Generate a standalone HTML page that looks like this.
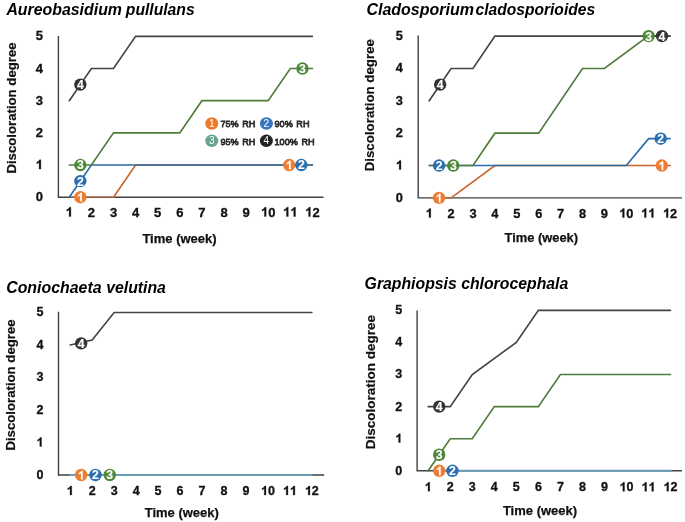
<!DOCTYPE html>
<html><head><meta charset="utf-8"><style>
html,body{margin:0;padding:0;background:#fff;}
svg{display:block;font-family:"Liberation Sans", sans-serif;filter:blur(0.3px);}
</style></head><body>
<svg width="685" height="522" viewBox="0 0 685 522">
<rect width="685" height="522" fill="#fff"/>
<text y="15.0" font-weight="bold" font-style="italic" fill="#000"><tspan x="6.4" font-size="15.88">Aureobasidium</tspan><tspan x="125.8" font-size="15.7">pullulans</tspan></text>
<path d="M58.4 36.0 V197.2 H323.5" fill="none" stroke="#404040" stroke-width="1.4"/>
<text x="35.69" y="201.28" font-size="13" font-weight="bold" fill="#111" stroke="#111" stroke-width="0.3">0</text>
<path transform="translate(35.69 169.11) scale(0.01300 -0.01300)" d="M400 0 H262 V514 C212 468 153 434 84 411 V535 C120 547 160 569 203 602 C246 636 276 674 291 716 H400 Z" fill="#111" stroke="#111" stroke-width="23.1"/>
<text x="35.69" y="136.94" font-size="13" font-weight="bold" fill="#111" stroke="#111" stroke-width="0.3">2</text>
<text x="35.69" y="104.77" font-size="13" font-weight="bold" fill="#111" stroke="#111" stroke-width="0.3">3</text>
<text x="35.69" y="72.60" font-size="13" font-weight="bold" fill="#111" stroke="#111" stroke-width="0.3">4</text>
<text x="35.69" y="40.43" font-size="13" font-weight="bold" fill="#111" stroke="#111" stroke-width="0.3">5</text>
<path transform="translate(65.69 216.50) scale(0.01300 -0.01300)" d="M400 0 H262 V514 C212 468 153 434 84 411 V535 C120 547 160 569 203 602 C246 636 276 674 291 716 H400 Z" fill="#111" stroke="#111" stroke-width="23.1"/>
<text x="87.79" y="216.50" font-size="13" font-weight="bold" fill="#111" stroke="#111" stroke-width="0.3">2</text>
<text x="109.89" y="216.50" font-size="13" font-weight="bold" fill="#111" stroke="#111" stroke-width="0.3">3</text>
<text x="131.99" y="216.50" font-size="13" font-weight="bold" fill="#111" stroke="#111" stroke-width="0.3">4</text>
<text x="154.09" y="216.50" font-size="13" font-weight="bold" fill="#111" stroke="#111" stroke-width="0.3">5</text>
<text x="176.19" y="216.50" font-size="13" font-weight="bold" fill="#111" stroke="#111" stroke-width="0.3">6</text>
<text x="198.29" y="216.50" font-size="13" font-weight="bold" fill="#111" stroke="#111" stroke-width="0.3">7</text>
<text x="220.39" y="216.50" font-size="13" font-weight="bold" fill="#111" stroke="#111" stroke-width="0.3">8</text>
<text x="242.49" y="216.50" font-size="13" font-weight="bold" fill="#111" stroke="#111" stroke-width="0.3">9</text>
<path transform="translate(260.97 216.50) scale(0.01300 -0.01300)" d="M400 0 H262 V514 C212 468 153 434 84 411 V535 C120 547 160 569 203 602 C246 636 276 674 291 716 H400 Z" fill="#111" stroke="#111" stroke-width="23.1"/><text x="268.20" y="216.50" font-size="13" font-weight="bold" fill="#111" stroke="#111" stroke-width="0.3">0</text>
<path transform="translate(283.07 216.50) scale(0.01300 -0.01300)" d="M400 0 H262 V514 C212 468 153 434 84 411 V535 C120 547 160 569 203 602 C246 636 276 674 291 716 H400 Z" fill="#111" stroke="#111" stroke-width="23.1"/><path transform="translate(290.30 216.50) scale(0.01300 -0.01300)" d="M400 0 H262 V514 C212 468 153 434 84 411 V535 C120 547 160 569 203 602 C246 636 276 674 291 716 H400 Z" fill="#111" stroke="#111" stroke-width="23.1"/>
<path transform="translate(305.17 216.50) scale(0.01300 -0.01300)" d="M400 0 H262 V514 C212 468 153 434 84 411 V535 C120 547 160 569 203 602 C246 636 276 674 291 716 H400 Z" fill="#111" stroke="#111" stroke-width="23.1"/><text x="312.40" y="216.50" font-size="13" font-weight="bold" fill="#111" stroke="#111" stroke-width="0.3">2</text>
<text x="179.5" y="243.3" font-size="13" font-weight="bold" text-anchor="middle" fill="#111" stroke="#111" stroke-width="0.25">Time (week)</text>
<text transform="translate(15.5 108) rotate(-90)" font-size="13.2" font-weight="bold" text-anchor="middle" fill="#111" stroke="#111" stroke-width="0.2">Discoloration degree</text>
<path d="M69.30 197.20 L113.50 197.20" fill="none" stroke="#C8652B" stroke-width="1.5" stroke-opacity="0.6" stroke-linejoin="miter" stroke-linecap="round"/>
<path d="M113.50 197.20 L135.60 165.03 L312.40 165.03" fill="none" stroke="#C8652B" stroke-width="1.65" stroke-opacity="1" stroke-linejoin="miter" stroke-linecap="round"/>
<path d="M69.30 197.20 L91.40 165.03 L312.40 165.03" fill="none" stroke="#2A6CA6" stroke-width="1.65" stroke-opacity="1" stroke-linejoin="miter" stroke-linecap="round"/>
<path d="M69.30 165.03 L91.40 165.03 L113.50 132.86 L179.80 132.86 L201.90 100.69 L268.20 100.69 L290.30 68.52 L312.40 68.52" fill="none" stroke="#4E7C3A" stroke-width="1.65" stroke-opacity="1" stroke-linejoin="miter" stroke-linecap="round"/>
<path d="M69.30 100.69 L91.40 68.52 L113.50 68.52 L135.60 36.35 L312.40 36.35" fill="none" stroke="#444444" stroke-width="1.65" stroke-opacity="1" stroke-linejoin="miter" stroke-linecap="round"/>
<circle cx="80.35" cy="197.20" r="6.2" fill="#ED7D31"/>
<path transform="translate(76.96 201.60) scale(0.01220 -0.01220)" d="M400 0 H262 V514 C212 468 153 434 84 411 V535 C120 547 160 569 203 602 C246 636 276 674 291 716 H400 Z" fill="#fff" stroke="#fff" stroke-width="12.3"/>
<circle cx="80.35" cy="181.11" r="6.2" fill="#2A6EB0"/>
<text x="76.96" y="185.51" font-size="12.2" font-weight="bold" fill="#fff" stroke="#fff" stroke-width="0.15">2</text>
<circle cx="80.35" cy="165.03" r="6.2" fill="#4E8737"/>
<text x="76.96" y="169.43" font-size="12.2" font-weight="bold" fill="#fff" stroke="#fff" stroke-width="0.15">3</text>
<circle cx="80.35" cy="84.60" r="6.2" fill="#333333"/>
<text x="76.96" y="89.00" font-size="12.2" font-weight="bold" fill="#fff" stroke="#fff" stroke-width="0.15">4</text>
<circle cx="289.19" cy="165.03" r="6.2" fill="#ED7D31"/>
<path transform="translate(285.80 169.43) scale(0.01220 -0.01220)" d="M400 0 H262 V514 C212 468 153 434 84 411 V535 C120 547 160 569 203 602 C246 636 276 674 291 716 H400 Z" fill="#fff" stroke="#fff" stroke-width="12.3"/>
<circle cx="301.35" cy="165.03" r="6.2" fill="#2A6EB0"/>
<text x="297.96" y="169.43" font-size="12.2" font-weight="bold" fill="#fff" stroke="#fff" stroke-width="0.15">2</text>
<circle cx="302.46" cy="68.52" r="6.2" fill="#4E8737"/>
<text x="299.06" y="72.92" font-size="12.2" font-weight="bold" fill="#fff" stroke="#fff" stroke-width="0.15">3</text>
<text y="15.2" font-weight="bold" font-style="italic" fill="#000"><tspan x="366.4" font-size="16.0">Cladosporium</tspan><tspan x="475.5" font-size="15.6">cladosporioides</tspan></text>
<path d="M418.2 35.5 V197.9 H682" fill="none" stroke="#404040" stroke-width="1.4"/>
<text x="395.84" y="201.91" font-size="12.8" font-weight="bold" fill="#111" stroke="#111" stroke-width="0.3">0</text>
<path transform="translate(395.84 169.55) scale(0.01280 -0.01280)" d="M400 0 H262 V514 C212 468 153 434 84 411 V535 C120 547 160 569 203 602 C246 636 276 674 291 716 H400 Z" fill="#111" stroke="#111" stroke-width="23.4"/>
<text x="395.84" y="137.19" font-size="12.8" font-weight="bold" fill="#111" stroke="#111" stroke-width="0.3">2</text>
<text x="395.84" y="104.83" font-size="12.8" font-weight="bold" fill="#111" stroke="#111" stroke-width="0.3">3</text>
<text x="395.84" y="72.47" font-size="12.8" font-weight="bold" fill="#111" stroke="#111" stroke-width="0.3">4</text>
<text x="395.84" y="40.11" font-size="12.8" font-weight="bold" fill="#111" stroke="#111" stroke-width="0.3">5</text>
<path transform="translate(425.64 217.60) scale(0.01280 -0.01280)" d="M400 0 H262 V514 C212 468 153 434 84 411 V535 C120 547 160 569 203 602 C246 636 276 674 291 716 H400 Z" fill="#111" stroke="#111" stroke-width="23.4"/>
<text x="447.54" y="217.60" font-size="12.8" font-weight="bold" fill="#111" stroke="#111" stroke-width="0.3">2</text>
<text x="469.44" y="217.60" font-size="12.8" font-weight="bold" fill="#111" stroke="#111" stroke-width="0.3">3</text>
<text x="491.34" y="217.60" font-size="12.8" font-weight="bold" fill="#111" stroke="#111" stroke-width="0.3">4</text>
<text x="513.24" y="217.60" font-size="12.8" font-weight="bold" fill="#111" stroke="#111" stroke-width="0.3">5</text>
<text x="535.14" y="217.60" font-size="12.8" font-weight="bold" fill="#111" stroke="#111" stroke-width="0.3">6</text>
<text x="557.04" y="217.60" font-size="12.8" font-weight="bold" fill="#111" stroke="#111" stroke-width="0.3">7</text>
<text x="578.94" y="217.60" font-size="12.8" font-weight="bold" fill="#111" stroke="#111" stroke-width="0.3">8</text>
<text x="600.84" y="217.60" font-size="12.8" font-weight="bold" fill="#111" stroke="#111" stroke-width="0.3">9</text>
<path transform="translate(619.18 217.60) scale(0.01280 -0.01280)" d="M400 0 H262 V514 C212 468 153 434 84 411 V535 C120 547 160 569 203 602 C246 636 276 674 291 716 H400 Z" fill="#111" stroke="#111" stroke-width="23.4"/><text x="626.30" y="217.60" font-size="12.8" font-weight="bold" fill="#111" stroke="#111" stroke-width="0.3">0</text>
<path transform="translate(641.08 217.60) scale(0.01280 -0.01280)" d="M400 0 H262 V514 C212 468 153 434 84 411 V535 C120 547 160 569 203 602 C246 636 276 674 291 716 H400 Z" fill="#111" stroke="#111" stroke-width="23.4"/><path transform="translate(648.20 217.60) scale(0.01280 -0.01280)" d="M400 0 H262 V514 C212 468 153 434 84 411 V535 C120 547 160 569 203 602 C246 636 276 674 291 716 H400 Z" fill="#111" stroke="#111" stroke-width="23.4"/>
<path transform="translate(662.98 217.60) scale(0.01280 -0.01280)" d="M400 0 H262 V514 C212 468 153 434 84 411 V535 C120 547 160 569 203 602 C246 636 276 674 291 716 H400 Z" fill="#111" stroke="#111" stroke-width="23.4"/><text x="670.10" y="217.60" font-size="12.8" font-weight="bold" fill="#111" stroke="#111" stroke-width="0.3">2</text>
<text x="541.3" y="241.9" font-size="12.9" font-weight="bold" text-anchor="middle" fill="#111" stroke="#111" stroke-width="0.25">Time (week)</text>
<text transform="translate(374.3 105.2) rotate(-90)" font-size="13.3" font-weight="bold" text-anchor="middle" fill="#111" stroke="#111" stroke-width="0.2">Discoloration degree</text>
<path d="M429.20 197.90 L451.10 197.90" fill="none" stroke="#C8652B" stroke-width="1.5" stroke-opacity="0.6" stroke-linejoin="miter" stroke-linecap="round"/>
<path d="M451.10 197.90 L494.90 165.54 L670.10 165.54" fill="none" stroke="#C8652B" stroke-width="1.65" stroke-opacity="1" stroke-linejoin="miter" stroke-linecap="round"/>
<path d="M429.20 165.54 L626.30 165.54 L648.64 138.68 L670.10 138.68" fill="none" stroke="#2A6CA6" stroke-width="1.65" stroke-opacity="1" stroke-linejoin="miter" stroke-linecap="round"/>
<path d="M429.20 165.54 L473.00 165.54 L494.90 133.18 L538.70 133.18 L582.50 68.46 L604.40 68.46 L648.20 36.10 L670.10 36.10" fill="none" stroke="#4E7C3A" stroke-width="1.65" stroke-opacity="1" stroke-linejoin="miter" stroke-linecap="round"/>
<path d="M429.20 100.82 L451.10 68.46 L473.00 68.46 L494.90 36.10 L670.10 36.10" fill="none" stroke="#444444" stroke-width="1.65" stroke-opacity="1" stroke-linejoin="miter" stroke-linecap="round"/>
<circle cx="439.06" cy="197.90" r="6.2" fill="#ED7D31"/>
<path transform="translate(435.66 202.30) scale(0.01220 -0.01220)" d="M400 0 H262 V514 C212 468 153 434 84 411 V535 C120 547 160 569 203 602 C246 636 276 674 291 716 H400 Z" fill="#fff" stroke="#fff" stroke-width="12.3"/>
<circle cx="439.06" cy="165.54" r="6.2" fill="#2A6EB0"/>
<text x="435.66" y="169.94" font-size="12.2" font-weight="bold" fill="#fff" stroke="#fff" stroke-width="0.15">2</text>
<circle cx="453.29" cy="165.54" r="6.2" fill="#4E8737"/>
<text x="449.90" y="169.94" font-size="12.2" font-weight="bold" fill="#fff" stroke="#fff" stroke-width="0.15">3</text>
<circle cx="440.15" cy="84.64" r="6.2" fill="#333333"/>
<text x="436.76" y="89.04" font-size="12.2" font-weight="bold" fill="#fff" stroke="#fff" stroke-width="0.15">4</text>
<circle cx="661.78" cy="165.54" r="6.2" fill="#ED7D31"/>
<path transform="translate(658.39 169.94) scale(0.01220 -0.01220)" d="M400 0 H262 V514 C212 468 153 434 84 411 V535 C120 547 160 569 203 602 C246 636 276 674 291 716 H400 Z" fill="#fff" stroke="#fff" stroke-width="12.3"/>
<circle cx="660.68" cy="138.68" r="6.2" fill="#2A6EB0"/>
<text x="657.29" y="143.08" font-size="12.2" font-weight="bold" fill="#fff" stroke="#fff" stroke-width="0.15">2</text>
<circle cx="648.64" cy="36.10" r="6.2" fill="#4E8737"/>
<text x="645.25" y="40.50" font-size="12.2" font-weight="bold" fill="#fff" stroke="#fff" stroke-width="0.15">3</text>
<circle cx="662.00" cy="36.10" r="6.2" fill="#333333"/>
<text x="658.61" y="40.50" font-size="12.2" font-weight="bold" fill="#fff" stroke="#fff" stroke-width="0.15">4</text>
<text y="292.5" font-weight="bold" font-style="italic" fill="#000"><tspan x="6.2" font-size="15.9">Coniochaeta</tspan><tspan x="106.2" font-size="15.8">velutina</tspan></text>
<path d="M58.5 311.7 V475.0 H324.2" fill="none" stroke="#404040" stroke-width="1.4"/>
<text x="36.52" y="478.90" font-size="12.5" font-weight="bold" fill="#111" stroke="#111" stroke-width="0.3">0</text>
<path transform="translate(36.52 446.40) scale(0.01250 -0.01250)" d="M400 0 H262 V514 C212 468 153 434 84 411 V535 C120 547 160 569 203 602 C246 636 276 674 291 716 H400 Z" fill="#111" stroke="#111" stroke-width="24.0"/>
<text x="36.52" y="413.90" font-size="12.5" font-weight="bold" fill="#111" stroke="#111" stroke-width="0.3">2</text>
<text x="36.52" y="381.40" font-size="12.5" font-weight="bold" fill="#111" stroke="#111" stroke-width="0.3">3</text>
<text x="36.52" y="348.90" font-size="12.5" font-weight="bold" fill="#111" stroke="#111" stroke-width="0.3">4</text>
<text x="36.52" y="316.40" font-size="12.5" font-weight="bold" fill="#111" stroke="#111" stroke-width="0.3">5</text>
<path transform="translate(66.73 495.00) scale(0.01250 -0.01250)" d="M400 0 H262 V514 C212 468 153 434 84 411 V535 C120 547 160 569 203 602 C246 636 276 674 291 716 H400 Z" fill="#111" stroke="#111" stroke-width="24.0"/>
<text x="88.70" y="495.00" font-size="12.5" font-weight="bold" fill="#111" stroke="#111" stroke-width="0.3">2</text>
<text x="110.67" y="495.00" font-size="12.5" font-weight="bold" fill="#111" stroke="#111" stroke-width="0.3">3</text>
<text x="132.64" y="495.00" font-size="12.5" font-weight="bold" fill="#111" stroke="#111" stroke-width="0.3">4</text>
<text x="154.60" y="495.00" font-size="12.5" font-weight="bold" fill="#111" stroke="#111" stroke-width="0.3">5</text>
<text x="176.58" y="495.00" font-size="12.5" font-weight="bold" fill="#111" stroke="#111" stroke-width="0.3">6</text>
<text x="198.54" y="495.00" font-size="12.5" font-weight="bold" fill="#111" stroke="#111" stroke-width="0.3">7</text>
<text x="220.52" y="495.00" font-size="12.5" font-weight="bold" fill="#111" stroke="#111" stroke-width="0.3">8</text>
<text x="242.48" y="495.00" font-size="12.5" font-weight="bold" fill="#111" stroke="#111" stroke-width="0.3">9</text>
<path transform="translate(260.98 495.00) scale(0.01250 -0.01250)" d="M400 0 H262 V514 C212 468 153 434 84 411 V535 C120 547 160 569 203 602 C246 636 276 674 291 716 H400 Z" fill="#111" stroke="#111" stroke-width="24.0"/><text x="267.93" y="495.00" font-size="12.5" font-weight="bold" fill="#111" stroke="#111" stroke-width="0.3">0</text>
<path transform="translate(282.95 495.00) scale(0.01250 -0.01250)" d="M400 0 H262 V514 C212 468 153 434 84 411 V535 C120 547 160 569 203 602 C246 636 276 674 291 716 H400 Z" fill="#111" stroke="#111" stroke-width="24.0"/><path transform="translate(289.90 495.00) scale(0.01250 -0.01250)" d="M400 0 H262 V514 C212 468 153 434 84 411 V535 C120 547 160 569 203 602 C246 636 276 674 291 716 H400 Z" fill="#111" stroke="#111" stroke-width="24.0"/>
<path transform="translate(304.92 495.00) scale(0.01250 -0.01250)" d="M400 0 H262 V514 C212 468 153 434 84 411 V535 C120 547 160 569 203 602 C246 636 276 674 291 716 H400 Z" fill="#111" stroke="#111" stroke-width="24.0"/><text x="311.87" y="495.00" font-size="12.5" font-weight="bold" fill="#111" stroke="#111" stroke-width="0.3">2</text>
<text x="181.8" y="516.6" font-size="13" font-weight="bold" text-anchor="middle" fill="#111" stroke="#111" stroke-width="0.25">Time (week)</text>
<text transform="translate(15.0 385) rotate(-90)" font-size="13.2" font-weight="bold" text-anchor="middle" fill="#111" stroke="#111" stroke-width="0.2">Discoloration degree</text>
<path d="M70.20 475.00 L311.87 475.00" fill="none" stroke="#6A9EB2" stroke-width="1.9" stroke-opacity="1" stroke-linejoin="miter" stroke-linecap="round"/>
<path d="M70.20 345.00 L92.17 340.12 L114.14 312.50 L311.87 312.50" fill="none" stroke="#444444" stroke-width="1.65" stroke-opacity="1" stroke-linejoin="miter" stroke-linecap="round"/>
<circle cx="81.19" cy="475.00" r="6.2" fill="#ED7D31"/>
<path transform="translate(77.79 479.40) scale(0.01220 -0.01220)" d="M400 0 H262 V514 C212 468 153 434 84 411 V535 C120 547 160 569 203 602 C246 636 276 674 291 716 H400 Z" fill="#fff" stroke="#fff" stroke-width="12.3"/>
<circle cx="95.47" cy="475.00" r="6.2" fill="#2A6EB0"/>
<text x="92.07" y="479.40" font-size="12.2" font-weight="bold" fill="#fff" stroke="#fff" stroke-width="0.15">2</text>
<circle cx="109.75" cy="475.00" r="6.2" fill="#4E8737"/>
<text x="106.35" y="479.40" font-size="12.2" font-weight="bold" fill="#fff" stroke="#fff" stroke-width="0.15">3</text>
<circle cx="81.19" cy="343.38" r="6.2" fill="#333333"/>
<text x="77.79" y="347.77" font-size="12.2" font-weight="bold" fill="#fff" stroke="#fff" stroke-width="0.15">4</text>
<text x="364.6" y="288.7" font-size="15.8" font-weight="bold" font-style="italic" fill="#000">Graphiopsis chlorocephala</text>
<path d="M417.1 310.4 V470.8 H682" fill="none" stroke="#404040" stroke-width="1.4"/>
<text x="395.32" y="474.70" font-size="12.5" font-weight="bold" fill="#111" stroke="#111" stroke-width="0.3">0</text>
<path transform="translate(395.32 442.60) scale(0.01250 -0.01250)" d="M400 0 H262 V514 C212 468 153 434 84 411 V535 C120 547 160 569 203 602 C246 636 276 674 291 716 H400 Z" fill="#111" stroke="#111" stroke-width="24.0"/>
<text x="395.32" y="410.50" font-size="12.5" font-weight="bold" fill="#111" stroke="#111" stroke-width="0.3">2</text>
<text x="395.32" y="378.40" font-size="12.5" font-weight="bold" fill="#111" stroke="#111" stroke-width="0.3">3</text>
<text x="395.32" y="346.30" font-size="12.5" font-weight="bold" fill="#111" stroke="#111" stroke-width="0.3">4</text>
<text x="395.32" y="314.20" font-size="12.5" font-weight="bold" fill="#111" stroke="#111" stroke-width="0.3">5</text>
<path transform="translate(424.72 491.30) scale(0.01250 -0.01250)" d="M400 0 H262 V514 C212 468 153 434 84 411 V535 C120 547 160 569 203 602 C246 636 276 674 291 716 H400 Z" fill="#111" stroke="#111" stroke-width="24.0"/>
<text x="446.75" y="491.30" font-size="12.5" font-weight="bold" fill="#111" stroke="#111" stroke-width="0.3">2</text>
<text x="468.78" y="491.30" font-size="12.5" font-weight="bold" fill="#111" stroke="#111" stroke-width="0.3">3</text>
<text x="490.81" y="491.30" font-size="12.5" font-weight="bold" fill="#111" stroke="#111" stroke-width="0.3">4</text>
<text x="512.84" y="491.30" font-size="12.5" font-weight="bold" fill="#111" stroke="#111" stroke-width="0.3">5</text>
<text x="534.88" y="491.30" font-size="12.5" font-weight="bold" fill="#111" stroke="#111" stroke-width="0.3">6</text>
<text x="556.90" y="491.30" font-size="12.5" font-weight="bold" fill="#111" stroke="#111" stroke-width="0.3">7</text>
<text x="578.93" y="491.30" font-size="12.5" font-weight="bold" fill="#111" stroke="#111" stroke-width="0.3">8</text>
<text x="600.97" y="491.30" font-size="12.5" font-weight="bold" fill="#111" stroke="#111" stroke-width="0.3">9</text>
<path transform="translate(619.52 491.30) scale(0.01250 -0.01250)" d="M400 0 H262 V514 C212 468 153 434 84 411 V535 C120 547 160 569 203 602 C246 636 276 674 291 716 H400 Z" fill="#111" stroke="#111" stroke-width="24.0"/><text x="626.47" y="491.30" font-size="12.5" font-weight="bold" fill="#111" stroke="#111" stroke-width="0.3">0</text>
<path transform="translate(641.55 491.30) scale(0.01250 -0.01250)" d="M400 0 H262 V514 C212 468 153 434 84 411 V535 C120 547 160 569 203 602 C246 636 276 674 291 716 H400 Z" fill="#111" stroke="#111" stroke-width="24.0"/><path transform="translate(648.50 491.30) scale(0.01250 -0.01250)" d="M400 0 H262 V514 C212 468 153 434 84 411 V535 C120 547 160 569 203 602 C246 636 276 674 291 716 H400 Z" fill="#111" stroke="#111" stroke-width="24.0"/>
<path transform="translate(663.58 491.30) scale(0.01250 -0.01250)" d="M400 0 H262 V514 C212 468 153 434 84 411 V535 C120 547 160 569 203 602 C246 636 276 674 291 716 H400 Z" fill="#111" stroke="#111" stroke-width="24.0"/><text x="670.53" y="491.30" font-size="12.5" font-weight="bold" fill="#111" stroke="#111" stroke-width="0.3">2</text>
<text x="540" y="514.7" font-size="13" font-weight="bold" text-anchor="middle" fill="#111" stroke="#111" stroke-width="0.25">Time (week)</text>
<text transform="translate(374.5 382.2) rotate(-90)" font-size="13.5" font-weight="bold" text-anchor="middle" fill="#111" stroke="#111" stroke-width="0.2">Discoloration degree</text>
<path d="M439.21 470.80 L670.53 470.80" fill="none" stroke="#6A9BBD" stroke-width="1.9" stroke-opacity="1" stroke-linejoin="miter" stroke-linecap="round"/>
<path d="M428.20 470.80 L450.23 438.70 L472.26 438.70 L494.29 406.60 L538.35 406.60 L560.38 374.50 L670.53 374.50" fill="none" stroke="#4E7C3A" stroke-width="1.65" stroke-opacity="1" stroke-linejoin="miter" stroke-linecap="round"/>
<path d="M428.20 406.60 L450.23 406.60 L472.26 374.50 L516.32 342.40 L538.35 310.30 L670.53 310.30" fill="none" stroke="#444444" stroke-width="1.65" stroke-opacity="1" stroke-linejoin="miter" stroke-linecap="round"/>
<circle cx="439.21" cy="470.80" r="6.2" fill="#ED7D31"/>
<path transform="translate(435.82 475.20) scale(0.01220 -0.01220)" d="M400 0 H262 V514 C212 468 153 434 84 411 V535 C120 547 160 569 203 602 C246 636 276 674 291 716 H400 Z" fill="#fff" stroke="#fff" stroke-width="12.3"/>
<circle cx="452.43" cy="470.80" r="6.2" fill="#2A6EB0"/>
<text x="449.04" y="475.20" font-size="12.2" font-weight="bold" fill="#fff" stroke="#fff" stroke-width="0.15">2</text>
<circle cx="439.21" cy="454.75" r="6.2" fill="#4E8737"/>
<text x="435.82" y="459.15" font-size="12.2" font-weight="bold" fill="#fff" stroke="#fff" stroke-width="0.15">3</text>
<circle cx="439.21" cy="406.60" r="6.2" fill="#333333"/>
<text x="435.82" y="411.00" font-size="12.2" font-weight="bold" fill="#fff" stroke="#fff" stroke-width="0.15">4</text>
<ellipse cx="211.8" cy="123.5" rx="6.5" ry="6.2" fill="#EC7A2C"/>
<text x="211.8" y="127.0" font-size="10" text-anchor="middle" fill="#fff">1</text>
<text transform="translate(220.4 127.20) scale(1.0 1.08)" font-size="9.1" stroke="#2a2a2a" stroke-width="0.7" word-spacing="0.9" letter-spacing="0.05" fill="#2a2a2a">75% RH</text>
<ellipse cx="266.4" cy="123.5" rx="6.5" ry="6.2" fill="#3A76BC"/>
<text x="266.4" y="127.0" font-size="10" text-anchor="middle" fill="#fff">2</text>
<text transform="translate(274.5 127.20) scale(1.0 1.08)" font-size="9.1" stroke="#2a2a2a" stroke-width="0.7" word-spacing="0.9" letter-spacing="0.05" fill="#2a2a2a">90% RH</text>
<ellipse cx="211.8" cy="140.8" rx="6.5" ry="6.2" fill="#66A38E"/>
<text x="211.8" y="144.3" font-size="10" text-anchor="middle" fill="#fff">3</text>
<text transform="translate(220.4 144.50) scale(1.0 1.08)" font-size="9.1" stroke="#2a2a2a" stroke-width="0.7" word-spacing="0.9" letter-spacing="0.05" fill="#2a2a2a">95% RH</text>
<ellipse cx="266.4" cy="140.8" rx="6.5" ry="6.2" fill="#222"/>
<text x="266.4" y="144.3" font-size="10" text-anchor="middle" fill="#fff">4</text>
<text transform="translate(274.5 144.50) scale(1.0 1.08)" font-size="9.1" stroke="#2a2a2a" stroke-width="0.7" word-spacing="0.9" letter-spacing="0.05" fill="#2a2a2a">100% RH</text>
</svg>
</body></html>
